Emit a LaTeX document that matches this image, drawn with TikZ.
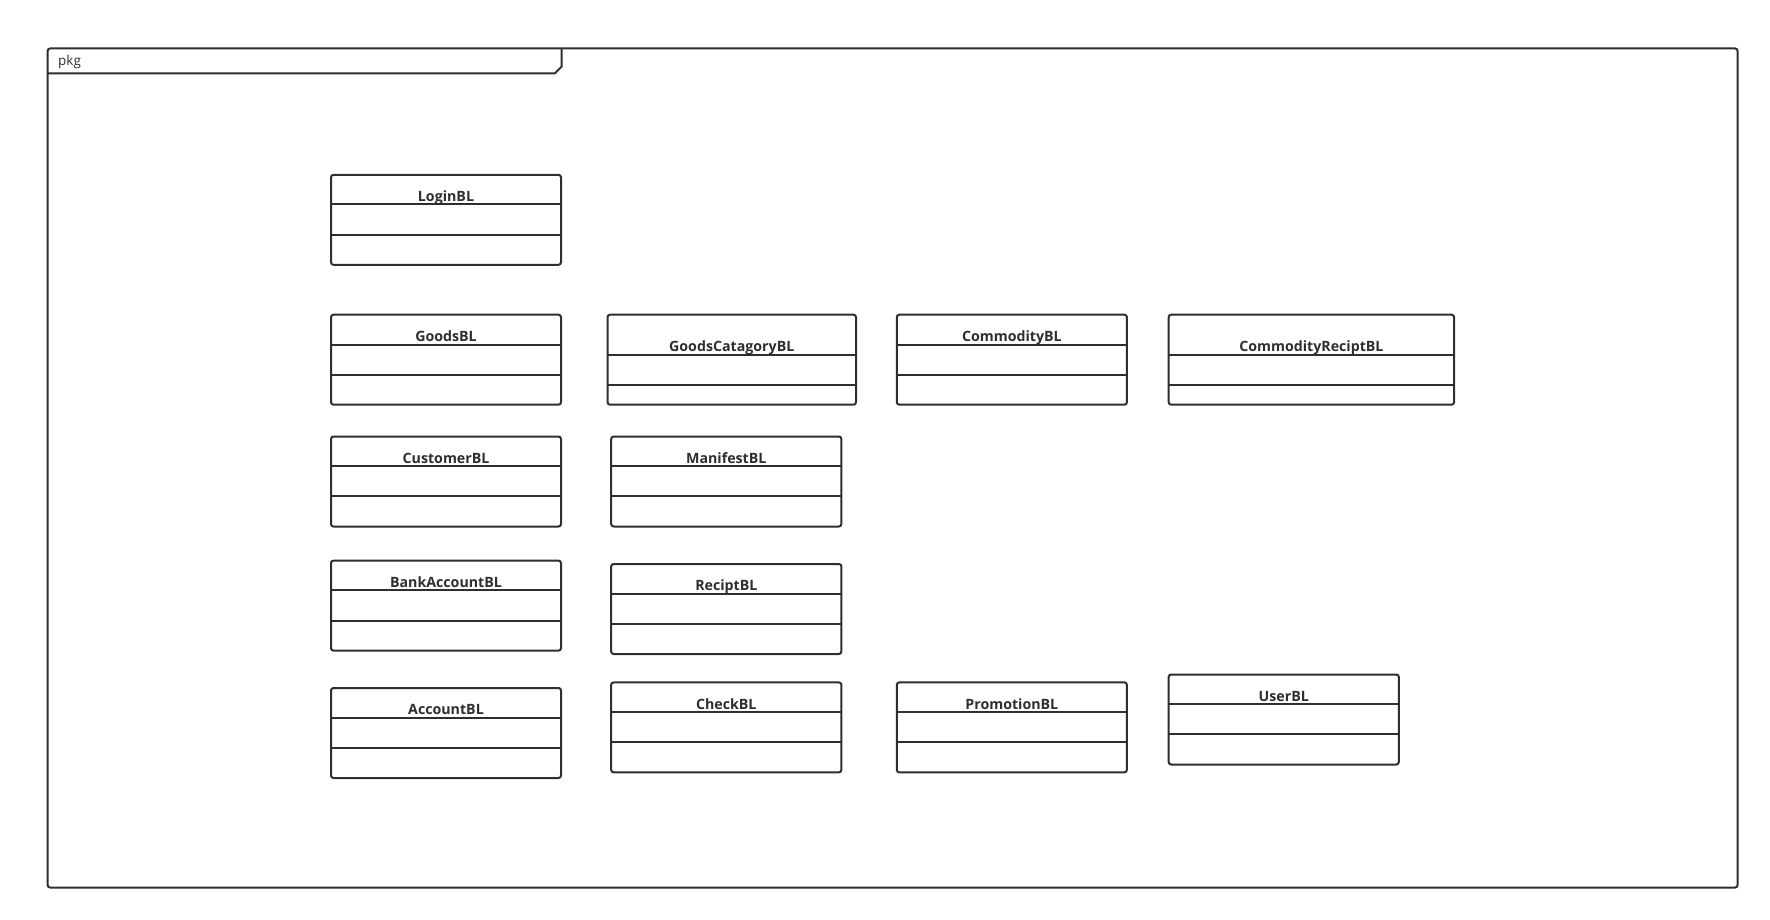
\documentclass[tikz,border=0pt]{standalone}
\usepackage{fontspec}
\setmainfont{Open Sans}
\definecolor{ink}{HTML}{2E2E2E}
\tikzset{
  cls/.style={draw=ink, line width=2pt, rounded corners=2.5pt, rectangle, inner sep=0pt, outer sep=0pt, fill=white},
  clsline/.style={draw=ink, line width=2pt},
  clsname/.style={inner sep=0pt, text=ink, font=\fontsize{14.2}{17}\selectfont\bfseries},
  frameline/.style={draw=ink, line width=2pt},
}
\newcommand\classbox[8]{%
  \node[cls, minimum width={#4pt-#2pt}, minimum height={#5pt-#3pt}] (#1) at ({(#2+#4)/2},{(#3+#5)/2}) {};
  \draw[clsline] (#1.west |- 0,#6) -- (#1.east |- 0,#6);
  \draw[clsline] (#1.west |- 0,#7) -- (#1.east |- 0,#7);
  \node[clsname, anchor=base] (#1-t) at ({(#2+#4)/2},{#6-3}) {#8};
}
\begin{document}
\begin{tikzpicture}[x=1pt,y=-1pt]
\useasboundingbox (0,0) rectangle (1770,920);
% package frame
\node[draw=ink, line width=2pt, rounded corners=2.5pt, rectangle, inner sep=0pt, outer sep=0pt,
  minimum width=1690pt, minimum height=839pt] (pkg) at (892.6,468) {};
\draw[frameline] (pkg.north west |- 0,73.3) -- (555,73.3) -- (561.7,66.6) -- (561.7,48.5);
\node[inner sep=0pt, anchor=base west, text=ink, font=\fontsize{13.5}{15}\selectfont] (pkglabel) at (58,65.5) {pkg};
% classes
\classbox{login}{331}{174.8}{561}{264.8}{204.5}{234.6}{LoginBL}
\classbox{goods}{331}{314.7}{561}{404.7}{344.5}{374.6}{GoodsBL}
\classbox{gcat}{607.5}{314.7}{856}{404.7}{354.5}{384.6}{GoodsCatagoryBL}
\classbox{comm}{896.8}{314.7}{1126.9}{404.7}{344.5}{374.6}{CommodityBL}
\classbox{commr}{1168.7}{314.7}{1454.1}{404.7}{354.5}{384.6}{CommodityReciptBL}
\classbox{cust}{331}{436.5}{561}{526.5}{466.3}{496.4}{CustomerBL}
\classbox{mani}{611.2}{436.5}{841.4}{526.5}{466.3}{496.4}{ManifestBL}
\classbox{bank}{331}{560.6}{561}{650.6}{590.4}{620.5}{BankAccountBL}
\classbox{recipt}{611.2}{564.0}{841.4}{654.0}{593.8}{623.9}{ReciptBL}
\classbox{acc}{331}{688.0}{561}{778.0}{717.8}{747.9}{AccountBL}
\classbox{check}{611.2}{682.4}{841.4}{772.4}{712.2}{742.3}{CheckBL}
\classbox{promo}{896.8}{682.4}{1126.9}{772.4}{712.2}{742.3}{PromotionBL}
\classbox{user}{1168.7}{674.5}{1398.8}{764.5}{704.3}{734.4}{UserBL}
\end{tikzpicture}
\end{document}
